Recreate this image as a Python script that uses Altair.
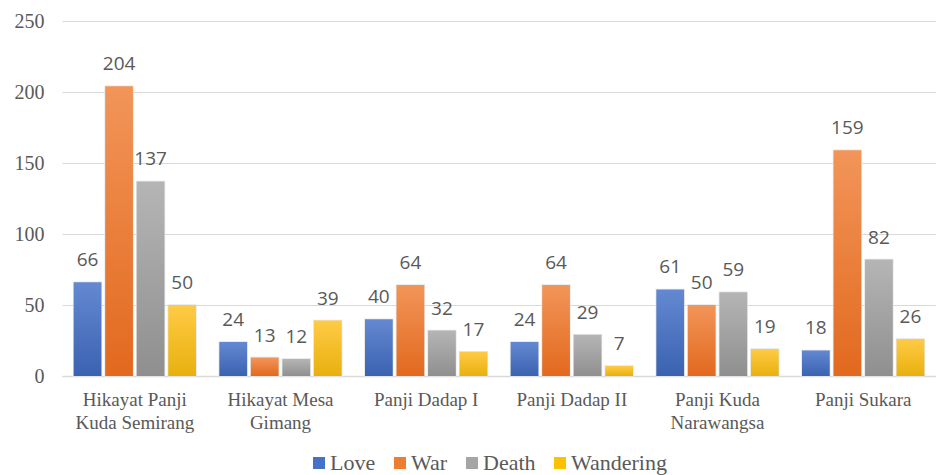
import altair as alt
import pandas as pd

categories = ["Hikayat Panji\nKuda Semirang", "Hikayat Mesa\nGimang", "Panji Dadap I",
              "Panji Dadap II", "Panji Kuda\nNarawangsa", "Panji Sukara"]
series = ["Love", "War", "Death", "Wandering"]
love = [66, 24, 40, 24, 61, 18]
war = [204, 13, 64, 64, 50, 159]
death = [137, 12, 32, 29, 59, 82]
wandering = [50, 39, 17, 7, 19, 26]
colors = ["#4472C4", "#ED7D31", "#A5A5A5", "#FFC000"]
grad_top = ["#6489D2", "#F29559", "#B5B5B5", "#FFCB45"]
grad_bottom = ["#3A62B0", "#E2691E", "#8F8F8F", "#E8B00E"]
y_ticks = [0, 50, 100, 150, 200, 250]

rows = []
for name, vals in zip(series, [love, war, death, wandering]):
    for c, v in zip(categories, vals):
        rows.append({"story": c, "theme": name, "count": v})
df = pd.DataFrame(rows)

serif = "Liberation Serif"
grey = "#595959"

x_enc = alt.X("story:N", sort=categories,
              scale=alt.Scale(paddingInner=0.16, paddingOuter=0.08),
              axis=alt.Axis(title=None, labelAngle=0, labelExpr="split(datum.label, '\\n')",
                            labelFont=serif, labelFontSize=19, labelColor=grey,
                            labelLineHeight=23, labelPadding=14, ticks=False,
                            domainColor="#D9D9D9", domainWidth=1.5, labelBaseline="top"))
xo_enc = alt.XOffset("theme:N", sort=series,
                     scale=alt.Scale(domain=series, paddingInner=0.12))
y_enc = alt.Y("count:Q", scale=alt.Scale(domain=[0, 250]),
              axis=alt.Axis(title=None, values=y_ticks, domain=False, ticks=False,
                            labelFont=serif, labelFontSize=20, labelColor=grey,
                            labelPadding=18, gridColor="#D9D9D9", gridWidth=1.2))

base = alt.Chart(df).mark_bar(stroke="#E6E6E6", strokeWidth=1.5).encode(
    x=x_enc, xOffset=xo_enc, y=y_enc,
    color=alt.Color("theme:N", sort=series,
                    scale=alt.Scale(domain=series, range=colors),
                    legend=alt.Legend(title=None, orient="none", direction="horizontal",
                                      legendX=246, legendY=431,
                                      symbolType="square", symbolSize=144,
                                      symbolStrokeWidth=0, labelFont=serif,
                                      labelFontSize=22, labelColor=grey,
                                      columnPadding=13, labelOffset=0))
)

layers = [base]
for s, t, b in zip(series, grad_top, grad_bottom):
    layers.append(
        alt.Chart(df).transform_filter(alt.datum.theme == s).mark_bar(
            color={"gradient": "linear", "x1": 0, "y1": 0, "x2": 0, "y2": 1,
                   "stops": [{"offset": 0, "color": t}, {"offset": 1, "color": b}]}
        ).encode(x=x_enc, xOffset=xo_enc, y=y_enc)
    )

text = alt.Chart(df).mark_text(baseline="bottom", dy=-12, font="Open Sans",
                                fontSize=19, color=grey).encode(
    x=x_enc, xOffset=xo_enc, y=y_enc, text="count:Q")
layers.append(text)

chart = alt.layer(*layers).properties(
    width=874, height=355,
    autosize=alt.AutoSizeParams(type="none"),
    padding={"left": 54, "top": 13, "right": 0, "bottom": 100}
).configure_view(stroke=None).configure_axis(labelFontWeight="normal")

chart.save("out.html", embed_options={"renderer": "svg", "actions": False})
